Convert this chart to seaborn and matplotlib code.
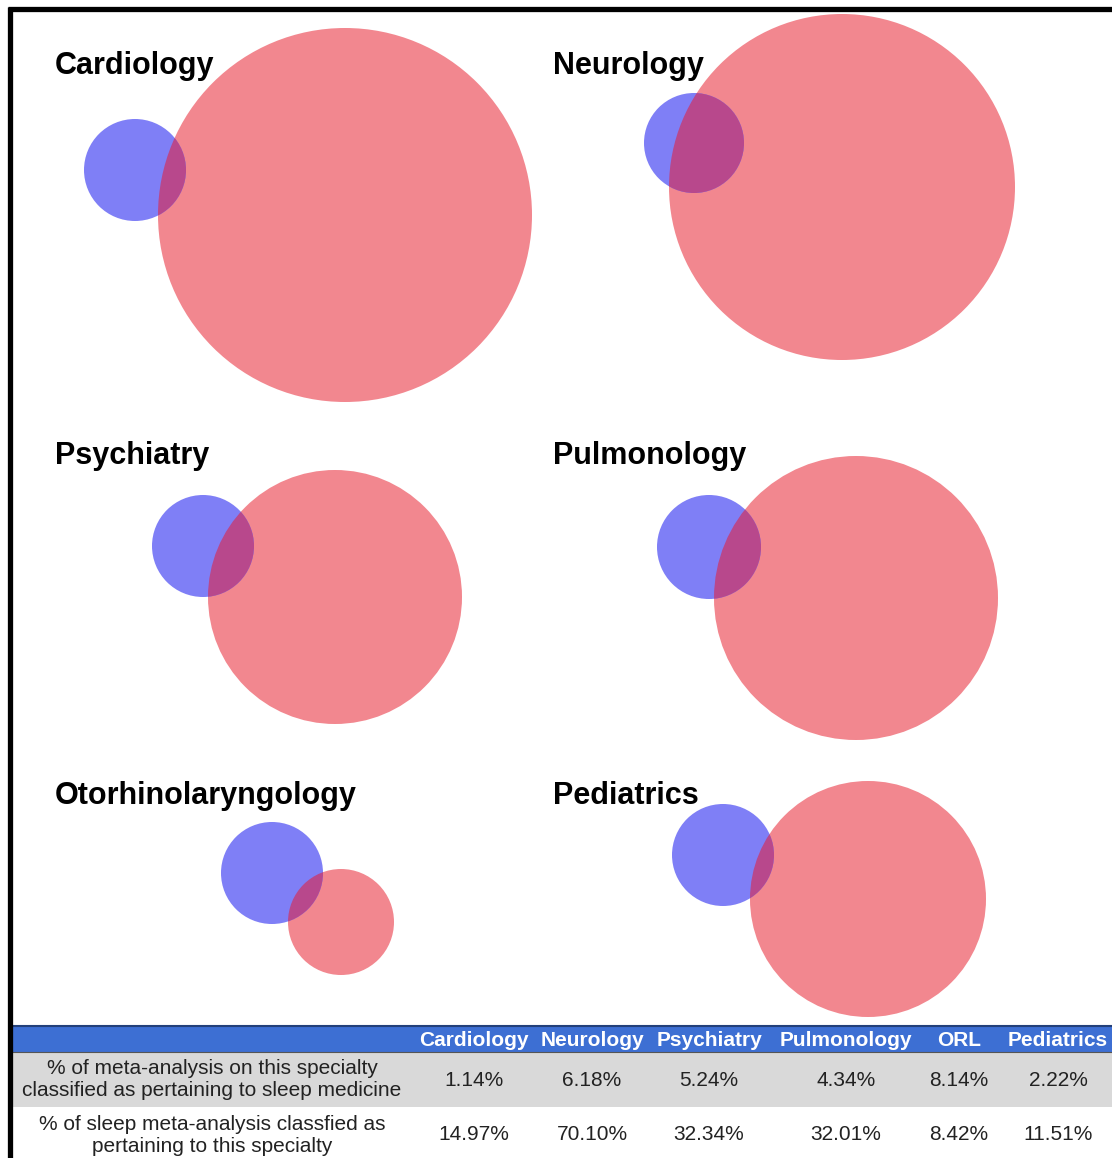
import numpy as np
import matplotlib
matplotlib.use("Agg")
import matplotlib.pyplot as plt
from matplotlib.patches import Circle, Rectangle
import seaborn as sns

# =====================================
# Data
# =====================================

specialties = ["Cardiology", "Neurology", "Psychiatry",
               "Pulmonology", "Otorhinolaryngology", "Pediatrics"]

# circle radii (pixels)
specialty_radius = [187, 173, 127, 142, 53, 118]
sleep_radius = [51, 50, 51, 52, 51, 51]

# circle centres (pixels)
specialty_center = [(345, 215), (842, 187), (335, 597),
                    (856, 598), (341, 922), (868, 899)]
sleep_center = [(135, 170), (694, 143), (203, 546),
                (709, 547), (272, 873), (723, 855)]

table_cols = ["Cardiology", "Neurology", "Psychiatry",
              "Pulmonology", "ORL", "Pediatrics"]
row_labels = ["% of meta-analysis on this specialty\nclassified as pertaining to sleep medicine",
              "% of sleep meta-analysis classfied as\npertaining to this specialty"]
pct_specialty_sleep = ["1.14%", "6.18%", "5.24%", "4.34%", "8.14%", "2.22%"]
pct_sleep_specialty = ["14.97%", "70.10%", "32.34%", "32.01%", "8.42%", "11.51%"]

# =====================================
# Style
# =====================================

sns.set_theme(style="white")
plt.rcParams["font.family"] = ["Liberation Sans", "DejaVu Sans"]

RED = "#f2878f"
BLUE = "#7f7ff6"
OVERLAP = "#b8488c"

W, H = 1112, 1158
fig = plt.figure(figsize=(W / 100, H / 100), dpi=100)
ax = fig.add_axes([0, 0, 1, 1])
ax.set_xlim(0, W)
ax.set_ylim(H, 0)
ax.axis("off")

# =====================================
# Venn circles
# =====================================

title_pos = [(55, 66), (553, 66), (55, 456), (553, 456), (55, 796), (553, 796)]

for i, name in enumerate(specialties):
    red = Circle(specialty_center[i], specialty_radius[i], color=RED, lw=0, zorder=2)
    blue = Circle(sleep_center[i], sleep_radius[i], color=BLUE, lw=0, zorder=2)
    ax.add_patch(red)
    ax.add_patch(blue)
    inter = Circle(specialty_center[i], specialty_radius[i], color=OVERLAP, lw=0, zorder=3)
    ax.add_patch(inter)
    inter.set_clip_path(blue)
    ax.text(title_pos[i][0], title_pos[i][1], name, fontsize=22, fontweight="bold",
            ha="left", va="center", color="black", zorder=5)

# =====================================
# Table
# =====================================

col_x = [474, 592, 709, 846, 959, 1058]
ax.add_patch(Rectangle((12, 1025), W - 12, 27, color="#3d6fd3", lw=0, zorder=4))
ax.plot([12, W], [1026, 1026], color="#23407a", lw=1.5, zorder=5)
ax.add_patch(Rectangle((12, 1052), W - 12, 55, color="#d9d9d9", lw=0, zorder=4))
ax.plot([12, W], [1052, 1052], color="#555555", lw=0.8, zorder=5)

for x, c in zip(col_x, table_cols):
    ax.text(x, 1040, c, fontsize=15, fontweight="bold", color="white",
            ha="center", va="center", zorder=6)

for j, (vals, y) in enumerate(zip([pct_specialty_sleep, pct_sleep_specialty], [1080, 1135])):
    ax.text(212, y, row_labels[j], fontsize=15, color="#222222",
            ha="center", va="center", linespacing=1.2, zorder=6)
    for x, v in zip(col_x, vals):
        ax.text(x, y, v, fontsize=15, color="#222222",
                ha="center", va="center", zorder=6)

# =====================================
# Frame
# =====================================

ax.plot([8, W], [9, 9], color="black", lw=3.8, solid_capstyle="butt", zorder=7)
ax.plot([10, 10], [7, H], color="black", lw=3.8, solid_capstyle="butt", zorder=7)

fig.savefig("out.png", dpi=100)
